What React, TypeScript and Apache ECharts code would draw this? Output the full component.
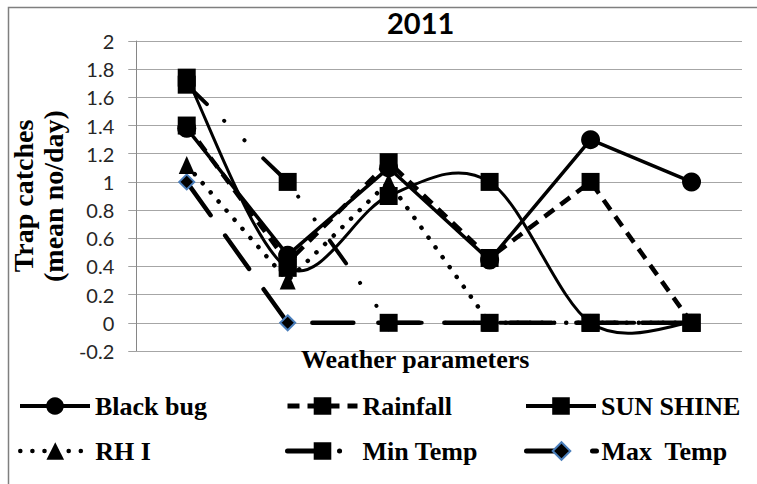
import React, { useEffect, useRef } from "react";
import * as echarts from "echarts";

// ---- data ----
const categories = ["1", "2", "3", "4", "5", "6"];
const blackBug = [1.38, 0.48, 1.1, 0.445, 1.3, 1.0];
const rainfall = [1.4, 0.43, 1.14, 0.46, 1.0, 0];
const sunShine = [1.74, 0.39, 0.9, 1.0, 0, 0];
const rhI = [1.12, 0.3, 1.0, 0, 0, 0];
const minTemp = [1.69, 1.0, 0, 0, 0, 0];
const maxTemp = [1.0, 0, 0, 0, 0, 0];
const yMin = -0.2;
const yMax = 2;
const yStep = 0.2;
const titleText = "2011";
const yName = "Trap catches\n(mean no/day)";
const xName = "Weather parameters";

const serif = "Liberation Serif";
const sans = "Lato";

export default function App() {
  const ref = useRef<HTMLDivElement>(null);
  useEffect(() => {
    if (!ref.current) return;
    const chart = echarts.init(ref.current, null, { renderer: "svg" });
    const legendText = {
      fontFamily: serif,
      fontWeight: "bold",
      fontSize: 26,
      color: "#000",
    };
    const mkLegend = (name: string, left: number, top: number, lineStyle: any) => ({
      data: [{ name, textStyle: legendText }],
      left,
      top,
      padding: 0,
      itemWidth: 70,
      itemHeight: 22,
      textStyle: legendText,
      lineStyle,
      selectedMode: false,
    });
    const line = (
      name: string,
      data: number[],
      symbol: string,
      symbolSize: number | number[],
      lineStyle: any,
      extra: any = {}
    ) => ({
      name,
      type: "line",
      data,
      symbol,
      symbolSize,
      lineStyle: { color: "#000", ...lineStyle },
      itemStyle: { color: "#000", ...(extra.itemStyle || {}) },
      z: extra.z || 2,
    });
    // Smoothed curve (Catmull-Rom like the spreadsheet's "smoothed line") through SUN SHINE points
    const n = sunShine.length;
    const smoothCurve = {
      name: "SUN SHINE",
      type: "custom",
      data: sunShine.map((v, i) => [i, v]),
      encode: { x: 0, y: 1 },
      silent: true,
      z: 2,
      renderItem: (params: any, api: any) => {
        const i = params.dataIndex;
        if (i >= n - 1) return { type: "group", children: [] };
        const p = (k: number) => {
          const c = Math.max(0, Math.min(n - 1, k));
          return api.coord([c, sunShine[c]]);
        };
        const p0 = p(i - 1);
        const p1 = p(i);
        const p2 = p(i + 1);
        const p3 = p(i + 2);
        return {
          type: "bezierCurve",
          shape: {
            x1: p1[0],
            y1: p1[1],
            x2: p2[0],
            y2: p2[1],
            cpx1: p1[0] + (p2[0] - p0[0]) / 6,
            cpy1: p1[1] + (p2[1] - p0[1]) / 6,
            cpx2: p2[0] - (p3[0] - p1[0]) / 6,
            cpy2: p2[1] - (p3[1] - p1[1]) / 6,
          },
          style: { stroke: "#000", lineWidth: 3, fill: "none" },
        };
      },
    };
    chart.setOption({
      animation: false,
      backgroundColor: "#fff",
      title: {
        text: titleText,
        left: 387,
        top: 8,
        padding: 0,
        textStyle: { fontFamily: sans, fontWeight: "bold", fontSize: 29, color: "#000" },
      },
      graphic: [
        {
          type: "rect",
          silent: true,
          shape: { x: 8.5, y: 7.5, width: 820, height: 540 },
          style: { fill: "none", stroke: "#7f7f7f", lineWidth: 1.5 },
        },
      ],
      legend: [
        mkLegend("Black bug", 18, 393, { width: 4 }),
        mkLegend("Rainfall", 285, 393, { width: 5 }),
        mkLegend("SUN SHINE", 524, 393, { width: 4, opacity: 1 }),
        mkLegend("RH I", 18, 438, { width: 4.5 }),
        mkLegend("Min Temp", 285, 438, { width: 5 }),
        mkLegend("Max  Temp", 524, 438, { width: 5 }),
      ],
      grid: { left: 130, right: 15, top: 41, bottom: 133, containLabel: false },
      xAxis: {
        type: "category",
        data: categories,
        boundaryGap: true,
        axisLine: { show: false, onZero: false },
        axisTick: { show: false },
        axisLabel: { show: false },
        splitLine: { show: false },
        name: xName,
        nameLocation: "middle",
        nameGap: -5,
        nameTextStyle: {
          fontFamily: serif,
          fontWeight: "bold",
          fontSize: 26,
          color: "#000",
          padding: [0, 48, 0, 0],
        },
      },
      yAxis: {
        type: "value",
        min: yMin,
        max: yMax,
        interval: yStep,
        axisLine: { show: true, lineStyle: { color: "#868686", width: 1 } },
        axisTick: { show: true, length: 8, lineStyle: { color: "#a0a0a0" } },
        splitLine: { show: true, lineStyle: { color: "#a6a6a6", width: 1 } },
        axisLabel: {
          margin: 22,
          fontFamily: sans,
          fontSize: 20,
          color: "#262626",
          formatter: (v: number) => String(Math.round(v * 10) / 10),
        },
        name: yName,
        nameLocation: "middle",
        nameRotate: 90,
        nameGap: 66,
        nameTextStyle: {
          fontFamily: serif,
          fontWeight: "bold",
          fontSize: 28,
          lineHeight: 30,
          color: "#000",
        },
      },
      series: [
        line("Max  Temp", maxTemp, "diamond", 15, { width: 4.5, type: [41, 25], cap: "round" }, {
          itemStyle: { borderColor: "#4a7ebb", borderWidth: 2 },
          z: 1,
        }),
        line("RH I", rhI, "triangle", [16, 18], { width: 4.5, type: [0.1, 12], cap: "round" }),
        line("Rainfall", rainfall, "rect", 18, { width: 4.5, type: [12, 8] }),
        line("Black bug", blackBug, "circle", 19, { width: 3.5, type: "solid" }),
        line("SUN SHINE", sunShine, "rect", 18, { width: 3, type: "solid", opacity: 0 }),
        smoothCurve,
        line("Min Temp", minTemp, "rect", 18, { width: 4, type: [28, 24, 0.1, 28, 0.1, 26], cap: "round" }),
      ],
    });
    return () => chart.dispose();
  }, []);
  return (
    <div
      ref={ref}
      style={{ position: "fixed", left: 0, top: 0, width: 757, height: 484, background: "#fff" }}
    />
  );
}
